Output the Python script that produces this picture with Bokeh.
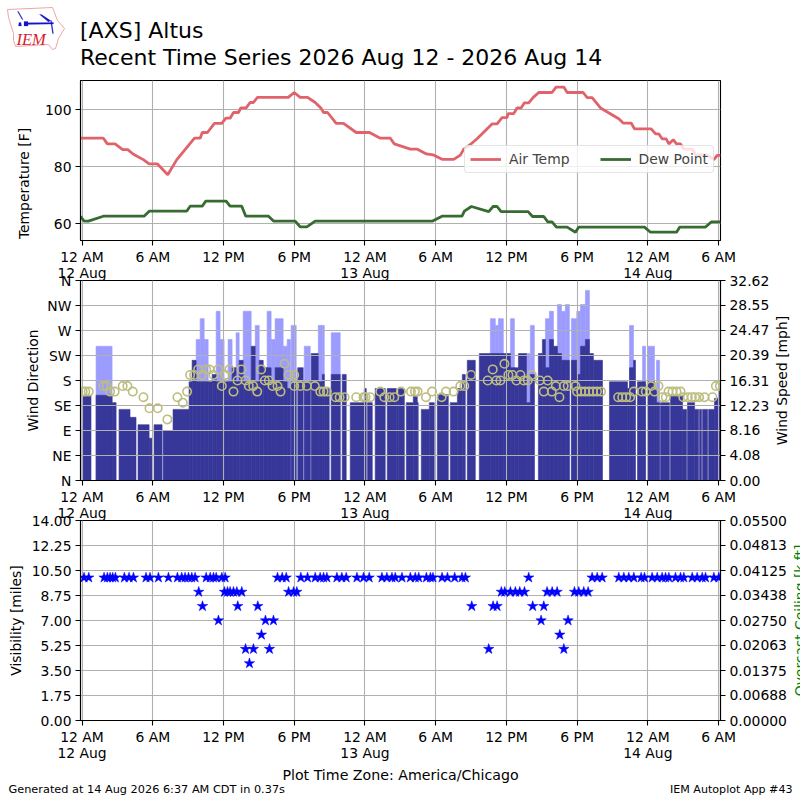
import math
from bokeh.embed import file_html
from bokeh.resources import INLINE
from bokeh.plotting import figure
from bokeh.layouts import column
from bokeh.core.properties import value
from bokeh.models import (Range1d, LinearAxis, FixedTicker, PrintfTickFormatter, Legend, LegendItem)

N = float("nan")
title_lines = ["[AXS] Altus", "Recent Time Series 2026 Aug 12 - 2026 Aug 14"]
x_ticks = [0, 6, 12, 18, 24, 30, 36, 42, 48, 54]
x_labels = ["12 AM\n12 Aug", "6 AM", "12 PM", "6 PM", "12 AM\n13 Aug", "6 AM", "12 PM", "6 PM", "12 AM\n14 Aug", "6 AM"]
dir_ticks = [0, 45, 90, 135, 180, 225, 270, 315, 360]
dir_labels = ["N", "NE", "E", "SE", "S", "SW", "W", "NW", "N"]
speed_ticks = [0, 4.08, 8.16, 12.23, 16.31, 20.39, 24.47, 28.55, 32.62]
vis_ticks = [0, 1.75, 3.5, 5.25, 7, 8.75, 10.5, 12.25, 14]
ceil_ticks = [0, 0.00688, 0.01375, 0.02063, 0.0275, 0.03438, 0.04125, 0.04813, 0.055]

temp_h = [-0.13, 1.81, 2.15, 2.8, 3.45, 3.88, 4.36, 5.2, 5.69, 6.4, 7.27, 8.04, 8.74, 9.54, 10.02, 10.2, 10.64, 11.23, 11.86,
          12.2, 12.56, 12.85, 13.27, 13.47, 13.92, 14.26, 14.54, 14.88, 17.5, 18, 18.5, 19.13, 19.78, 20.26, 20.49, 20.83,
          21.56, 22.18, 23.26, 24.39, 25.3, 26.15, 26.49, 27.85, 28.41, 29.21, 29.77, 30.54, 31.53, 32.09, 32.38, 32.94,
          33.51, 34.78, 35.21, 35.63, 36.05, 36.14, 36.62, 36.9, 37.24, 37.53, 37.89, 38.26, 38.74, 39.87, 40.21, 40.87,
          41.15, 42.51, 42.85, 43.27, 43.98, 45.53, 45.9, 46.58, 46.86, 48.28, 48.65, 48.93, 49.21, 49.55, 49.78, 50.15,
          50.43, 50.77, 51.05, 51.76, 52.04, 53.03, 53.6, 53.88, 54.16]
temp_f = [90, 90, 88, 88, 86, 86, 84.4, 82.5, 81, 81, 77.2, 82.5, 86, 90, 90, 92, 92, 95.2, 95.2,
          97, 97, 99, 99, 100.6, 100.6, 102.5, 102.5, 104.3, 104.3, 106, 104.3, 104.3, 102.5, 100.6, 99, 99,
          95.2, 95.2, 92, 92, 90, 90, 88, 86.2, 86.2, 84.5, 84.2, 82.6, 82.6, 84.1, 86.2, 87.8,
          89.8, 95, 95, 97.2, 97.2, 98.6, 98.6, 100.6, 100.6, 102.4, 102.4, 104.2, 106, 106, 107.9, 107.9,
          106, 106, 104.2, 104.2, 100.6, 96.8, 95.3, 95.3, 93.3, 93.3, 91.5, 91.5, 89.8, 89.8, 88, 89.5,
          88, 88, 86.2, 86.2, 84.2, 84.2, 82.5, 84, 84]
dew_h = [-0.13, 0.17, 0.54, 1.81, 5.26, 5.72, 8.89, 9.17, 10.2, 10.5, 12.22, 12.56, 13.55, 13.89, 15.82, 16.24, 18.08, 18.5,
         19.07, 19.78, 29.74, 30.54, 32.23, 32.43, 33.03, 34.5, 34.87, 35.21, 35.55, 37.84, 38.21, 39.17, 39.51, 39.87,
         40.24, 41.15, 41.86, 42.14, 47.71, 48.22, 50.43, 50.71, 52.89, 53.37, 54.16]
dew_f = [62.7, 61, 61, 62.7, 62.7, 64.5, 64.5, 66.2, 66.2, 68, 68, 66.2, 66.2, 62.7, 62.7, 61, 61, 59,
         59, 61, 61, 62.7, 62.7, 64.5, 66.1, 64.3, 66.1, 66.1, 64.3, 64.3, 62.6, 62.6, 60.7, 60.7,
         58.9, 58.9, 57.1, 58.9, 58.9, 57.1, 57.1, 58.9, 58.9, 60.7, 60.7]

wind_start = [0, 1.19, 2.55, 3.14, 4.07, 4.75, 5.69, 6.11, 6.88, 7.72, 9.08, 9.34, 9.68, 10.02, 10.36, 10.7, 11.04, 11.38,
              11.71, 12.05, 12.39, 12.73, 13.07, 13.33, 13.67, 14.35, 14.69, 15.03, 15.37, 15.7, 16.04, 16.38, 17.06, 17.4,
              17.74, 18.3, 18.85, 19.44, 20.04, 20.38, 20.55, 21.14, 22.07, 22.75, 23.94, 24.22, 24.87, 25.89, 26.66, 26.83,
              27.51, 28.1, 28.44, 28.78, 29.46, 30.14, 31.24, 31.84, 32.26, 32.68, 33.7, 34.64, 35.06, 35.32, 35.74, 36.34,
              36.68, 37.02, 37.7, 38.03, 38.71, 39.05, 39.31, 39.65, 39.99, 40.33, 40.67, 41.0, 41.51, 41.97, 42.28, 42.7,
              43.04, 43.38, 44.74, 46.27, 46.44, 46.78, 47.12, 47.55, 47.97, 48.56, 48.73, 49.07, 49.92, 50.94, 51.36, 51.96,
              52.38, 52.64, 53.15, 53.65, 53.99]
wind_end = [0.76, 2.55, 2.89, 4.07, 4.58, 5.69, 5.94, 6.79, 7.72, 9.08, 9.34, 9.68, 10.02, 10.36, 10.7, 11.04, 11.38, 11.71,
            12.05, 12.39, 12.73, 13.07, 13.33, 13.67, 14.35, 14.69, 15.03, 15.37, 15.7, 16.04, 16.38, 17.06, 17.4, 17.68,
            18.17, 18.76, 19.36, 20.04, 20.38, 20.55, 20.97, 21.9, 22.41, 23.94, 24.11, 24.62, 25.72, 26.66, 26.83, 27.34,
            28.1, 28.44, 28.52, 29.46, 29.88, 31.07, 31.84, 32.26, 32.51, 33.36, 34.64, 35.06, 35.32, 35.74, 36.34, 36.68,
            37.02, 37.7, 38.03, 38.37, 39.05, 39.31, 39.65, 39.99, 40.33, 40.67, 41.0, 41.34, 41.97, 42.28, 42.7, 43.04,
            43.38, 44.15, 46.27, 46.44, 46.78, 46.95, 47.55, 47.8, 48.56, 48.73, 48.99, 49.83, 50.94, 51.28, 51.96, 52.3,
            52.55, 53.06, 53.65, 53.99, 54.16]
wind_speed = [13.9, 13.9, 12.7, 11.6, 10.3, 9.1, 6.9, 9.1, 8.1, 11.6, 16.1, 19.6, 16.1, 16.1, 16.1, 16.1, 17.3, 16.1,
              16.1, 16.1, 16.1, 18.4, 16.1, 19.6, 16.1, 21.9, 16.1, 19.6, 18.4, 18.4, 16.1, 18.4, 16.1, 15.0,
              16.1, 18.4, 16.1, 20.7, 16.1, 17.3, 15.0, 17.3, 17.3, 12.7, 15.0, 12.7, 15.0, 15.0, 14.0, 15.0,
              12.7, 13.7, 12.7, 11.6, 12.7, 14.0, 12.7, 15.0, 17.3, 19.6, 20.7, 20.7, 20.7, 20.7, 20.7, 18.4,
              18.4, 20.7, 12.7, 17.3, 20.7, 23.0, 18.4, 23.0, 21.9, 20.7, 19.6, 19.6, 19.6, 17.3, 21.9, 23.0,
              20.7, 19.6, 16.1, 15.0, 18.4, 19.6, 16.1, 16.1, 16.1, 15.0, 12.7, 12.7, 13.9, 11.6, 12.7, 11.6,
              11.6, 11.6, 11.6, 13.4, 15.0]
wind_gust = [N, 21.9, N, N, N, N, N, N, N, N, N, N, 23.0, 26.4, 23.0, N, N, 27.6,
             23.0, N, 23.0, N, 24.1, N, 27.6, N, 25.3, N, N, 27.6, 23.0, 26.4, 21.9, 23.0,
             25.3, N, 21.9, N, 25.3, 25.3, N, 24.1, N, N, N, N, N, N, N, N,
             N, N, N, N, N, N, N, N, N, N, N, 26.4, 25.3, 26.4, N, 26.4,
             N, N, 20.7, 25.3, N, N, 26.4, 27.6, N, 28.7, 27.6, 28.7, 26.4, 27.6, 28.7, 31.0,
             N, N, N, N, 25.3, N, N, 21.9, 21.9, N, 19.6, N, N, N, N, N,
             N, N, N, N, N]

dir_h = [0.06, 0.28, 0.57, 1.81, 2.09, 2.38, 2.77, 3.45, 3.85, 4.3, 5.21, 5.72, 6.42, 7.24, 8.09, 8.55, 8.91, 9.17, 9.51, 9.85,
         10.19, 10.53, 10.81, 11.15, 11.55, 11.86, 12.17, 12.51, 12.85, 13.19, 13.53, 13.87, 14.15, 14.52, 14.86, 15.2, 15.51,
         15.85, 16.16, 16.58, 16.84, 17.18, 17.52, 18.0, 18.0, 18.51, 19.07, 19.75, 20.21, 20.49, 20.77, 21.51, 21.85, 22.27,
         23.26, 23.88, 24.05, 24.45, 25.3, 25.64, 26.09, 26.49, 27.05, 27.9, 28.24, 28.47, 29.18, 29.69, 30.51, 30.87, 31.52,
         32.09, 32.43, 33.0, 34.41, 34.84, 35.15, 35.49, 35.83, 36.17, 36.51, 36.85, 37.19, 37.47, 37.81, 38.15, 38.83, 39.17,
         39.5, 39.85, 40.19, 40.5, 40.86, 41.2, 41.85, 41.99, 42.34, 42.68, 43.01, 43.35, 43.69, 44.03, 45.48, 45.82, 46.16,
         46.5, 46.81, 47.49, 47.82, 48.28, 48.56, 48.9, 49.24, 49.52, 49.75, 50.09, 50.43, 50.77, 51.0, 51.39, 51.73, 52.01,
         52.35, 52.81, 53.48, 53.77, 54.11]
dir_deg = [160, 160, 160, 170, 170, 160, 160, 170, 170, 160, 150, 130, 130, 110, 150, 140, 160, 190, 190, 200,
           190, 200, 200, 190, 200, 170, 190, 200, 160, 180, 200, 180, 170, 170, 160, 200, 180,
           180, 170, 170, 160, 210, 190, 190, 170, 170, 170, 170, 160, 160, 160, 150, 150, 150,
           150, 150, 150, 150, 160, 150, 150, 150, 160, 160, 160, 160, 150, 160, 150, 160, 160,
           170, 170, 190, 180, 200, 180, 180, 210, 190, 190, 180, 190, 180, 180, 190, 180, 160,
           180, 160, 170, 150, 170, 170, 170, 160, 160, 160, 160, 160, 160, 160, 150, 150, 150,
           150, 160, 160, 160, 170, 160, 170, 150, 150, 160, 160, 160, 160, 150, 150, 150, 150,
           150, 150, 150, 170, 170]

vis_h = [0.17, 0.57, 1.87, 2.15, 2.38, 2.6, 2.83, 3.59, 3.99, 4.36, 5.43, 5.77, 6.48, 7.33, 8.09, 8.46, 8.74, 9.03, 9.31, 9.59,
         10.53, 10.87, 11.15, 11.38, 11.86, 12.14, 16.58, 16.98, 17.32, 18.56, 19.13, 19.78, 20.2, 20.49, 20.77, 21.62, 22.04,
         22.41, 23.32, 23.88, 24.36, 25.44, 25.86, 26.29, 26.57, 27.14, 27.85, 28.27, 28.56, 29.21, 29.55, 29.77, 30.54, 31.0,
         31.61, 32.23, 32.52, 37.89, 43.27, 43.7, 44.12, 45.53, 45.96, 46.38, 46.81, 47.43, 47.71, 48.36, 48.79, 49.21, 49.5,
         49.78, 50.34, 50.77, 51.05, 51.76, 52.18, 52.61, 52.89, 53.6, 54.02,
         9.9, 12.08, 12.34, 12.56, 12.85, 13.13, 13.55, 17.52, 17.95, 18.22, 35.57, 35.86, 36.34, 36.76, 37.13, 37.53, 39.45,
         39.88, 40.3, 41.77, 42.14, 42.56, 42.93,
         10.22, 13.21, 14.91, 33.06, 34.87, 35.21, 38.23, 39.17,
         11.57, 15.56, 16.24, 38.94, 41.23,
         15.22, 40.53,
         13.87, 14.54, 15.9, 34.5, 40.87,
         14.2]
vis_mi = [10] * 81 + [9] * 23 + [8] * 8 + [7] * 5 + [6] * 2 + [5] * 5 + [4]

FONT = "DejaVu Sans"
FS = "13.9px"
XR = (-0.13, 54.16)
overrides = dict(zip(x_ticks, x_labels))
TOP = 0
H0 = 800


def ax_style(ax):
    ax.major_tick_in = 0
    ax.major_tick_out = 5
    ax.minor_tick_line_color = None
    ax.major_tick_line_width = 1.1
    ax.axis_line_width = 1.1
    ax.major_label_text_font = FONT
    ax.major_label_text_font_size = FS
    ax.major_label_text_color = "black"
    ax.major_label_standoff = 4


def style_axis_label(ax):
    ax.axis_label_text_font = FONT
    ax.axis_label_text_font_size = FS
    ax.axis_label_text_font_style = "normal"
    ax.axis_label_text_color = "black"


def style(p):
    p.outline_line_color = "black"
    p.outline_line_width = 1.1
    p.grid.grid_line_color = "#b0b0b0"
    p.grid.grid_line_width = 1.1
    p.xgrid.ticker = FixedTicker(ticks=x_ticks)
    p.border_fill_alpha = 0
    p.background_fill_color = "white"
    ax = p.xaxis[0]
    ax.ticker = FixedTicker(ticks=x_ticks)
    ax.major_label_overrides = overrides
    ax.major_label_text_line_height = 1.05
    ax_style(ax)
    ax.major_label_standoff = 3
    style_axis_label(ax)
    ay = p.yaxis[0]
    ax_style(ay)
    style_axis_label(ay)


# ---------- page layer: titles, logo, footers, axis names that sit off-centre
p0 = figure(width=800, height=H0, output_backend="svg", toolbar_location=None, x_range=Range1d(0, 800),
            y_range=Range1d(TOP + H0, TOP), min_border=0, x_axis_type=None, y_axis_type=None, frame_align=False)
p0.outline_line_color = None
p0.grid.visible = False
p0.border_fill_alpha = 0
p0.background_fill_alpha = 0


def txt(x, y, text, size, color="black", align="left", font=FONT, style_="normal", angle=0.0):
    p0.text([x], [y], text=[text], text_font=value(font), text_font_size=value(size), text_color=color,
            text_align=align, text_baseline="middle", text_font_style=style_, angle=angle)


txt(79.5, 30, title_lines[0], "22px")
txt(79.5, 57, title_lines[1], "22px")
txt(8, 789, "Generated at 14 Aug 2026 6:37 AM CDT in 0.37s", "11.3px")
txt(792, 789, "IEM Autoplot App #43", "11.1px", align="right")
txt(23, 183, "Temperature [F]", FS, align="center", angle=math.pi / 2)
txt(781, 380, "Wind Speed [mph]", FS, align="center", angle=math.pi / 2)
txt(799.5, 620, "Overcast Ceiling [k ft]", FS, color="green", align="center", angle=math.pi / 2)

outline_x = [7, 52, 57, 64, 58, 55, 52, 48, 15, 13, 13, 8]
outline_y = [9, 7, 20, 28, 38, 48, 49, 44, 46, 40, 33, 17]
p0.patch(outline_x, outline_y, fill_alpha=0, line_color="#ee9a9a", line_width=0.9)
logo_shapes = [([25, 53, 53, 25], [22.3, 22, 23.5, 24]), ([39, 41, 50, 48], [14, 14, 20, 21.5]),
               ([50, 51, 53, 52], [20, 20, 33, 33]), ([23.5, 27.5, 27.5, 23.5], [21, 21, 25.5, 25.5]),
               ([17, 18, 22.5, 21.5], [11, 11, 19, 19]), ([18.5, 20.5, 21, 18], [22, 22, 25.5, 25.5])]
for sx, sy in logo_shapes:
    p0.patch(sx, sy, fill_color="#1616c8", line_color="#1616c8", line_width=0.2)
txt(16, 39, "IEM", "16.5px", color="#d8202c", font="Liberation Serif", style_="italic")

# ---------- temperature panel
p1 = figure(width=800, height=80 - TOP + 160 + 50, output_backend="svg", toolbar_location=None, x_range=Range1d(*XR),
            y_range=Range1d(54.2, 110.2), min_border_left=80, min_border_right=80, min_border_top=80 - TOP,
            min_border_bottom=50, margin=(-H0, 0, 0, 0), frame_align=False)
style(p1)
p1.yaxis[0].ticker = FixedTicker(ticks=[60, 80, 100])
r_t = p1.line(temp_h, temp_f, line_color="#e0636b", line_width=2.8)
r_d = p1.line(dew_h, dew_f, line_color="#376b32", line_width=2.8)
leg = Legend(items=[LegendItem(label="Air Temp", renderers=[r_t]), LegendItem(label="Dew Point", renderers=[r_d])],
             orientation="horizontal", location=(384, 67), margin=0, padding=5, spacing=30, label_standoff=8,
             glyph_width=31, glyph_height=14, background_fill_alpha=0.8, border_line_color="#cccccc",
             border_line_width=1.1, label_text_font=FONT, label_text_font_size=FS, label_height=14,
             label_text_baseline="middle", border_radius=4)
p1.add_layout(leg)

# ---------- wind panel
p2 = figure(width=800, height=262, output_backend="svg", toolbar_location=None, x_range=Range1d(*XR),
            y_range=Range1d(0, 360), min_border_left=80, min_border_right=80, min_border_top=12,
            min_border_bottom=50, margin=(-22, 0, 0, 0), frame_align=False)
p2.extra_y_ranges = {"speed": Range1d(0, 32.62)}
style(p2)
p2.yaxis[0].ticker = FixedTicker(ticks=dir_ticks)
p2.yaxis[0].major_label_overrides = dict(zip(dir_ticks, dir_labels))
p2.yaxis[0].axis_label = "Wind Direction"
p2.yaxis[0].axis_label_standoff = 3
p2.ygrid.ticker = FixedTicker(ticks=dir_ticks)
ax_r = LinearAxis(y_range_name="speed", ticker=FixedTicker(ticks=speed_ticks), formatter=PrintfTickFormatter(format="%.2f"))
ax_style(ax_r)
p2.add_layout(ax_r, "right")
p2.quad(left=wind_start, right=wind_end, top=wind_gust, bottom=0, y_range_name="speed", fill_color="#9c9cff",
        line_color="#9c9cff", line_width=0.6, level="image")
p2.quad(left=wind_start, right=wind_end, top=wind_speed, bottom=0, y_range_name="speed", fill_color="#373799",
        line_color="#373799", line_width=0.6, level="image")
p2.scatter(dir_h, dir_deg, marker="circle", size=8.4, fill_color=None, line_color="#bdbd80", line_width=1.6)

# ---------- visibility panel
p3 = figure(width=800, height=TOP + H0 - 508, output_backend="svg", toolbar_location=None, x_range=Range1d(*XR),
            y_range=Range1d(0, 14), min_border_left=80, min_border_right=80, min_border_top=12,
            min_border_bottom=TOP + H0 - 720, margin=(-22, 0, 0, 0), frame_align=False)
p3.extra_y_ranges = {"ceil": Range1d(0, 0.055)}
style(p3)
p3.yaxis[0].ticker = FixedTicker(ticks=vis_ticks)
p3.yaxis[0].formatter = PrintfTickFormatter(format="%.2f")
p3.yaxis[0].axis_label = "Visibility [miles]"
p3.yaxis[0].axis_label_standoff = 5
p3.ygrid.ticker = FixedTicker(ticks=vis_ticks)
p3.xaxis[0].axis_label = "Plot Time Zone: America/Chicago"
p3.xaxis[0].axis_label_text_font_size = "14.2px"
p3.xaxis[0].axis_label_standoff = 3
ax_c = LinearAxis(y_range_name="ceil", ticker=FixedTicker(ticks=ceil_ticks), formatter=PrintfTickFormatter(format="%.5f"))
ax_style(ax_c)
p3.add_layout(ax_c, "right")
p3.scatter(vis_h, vis_mi, marker="star", size=11, fill_color="#0000ff", line_color="#0000ff", line_width=0.5)

open("out.html", "w").write(file_html(column(p0, p1, p2, p3, spacing=0), INLINE))
